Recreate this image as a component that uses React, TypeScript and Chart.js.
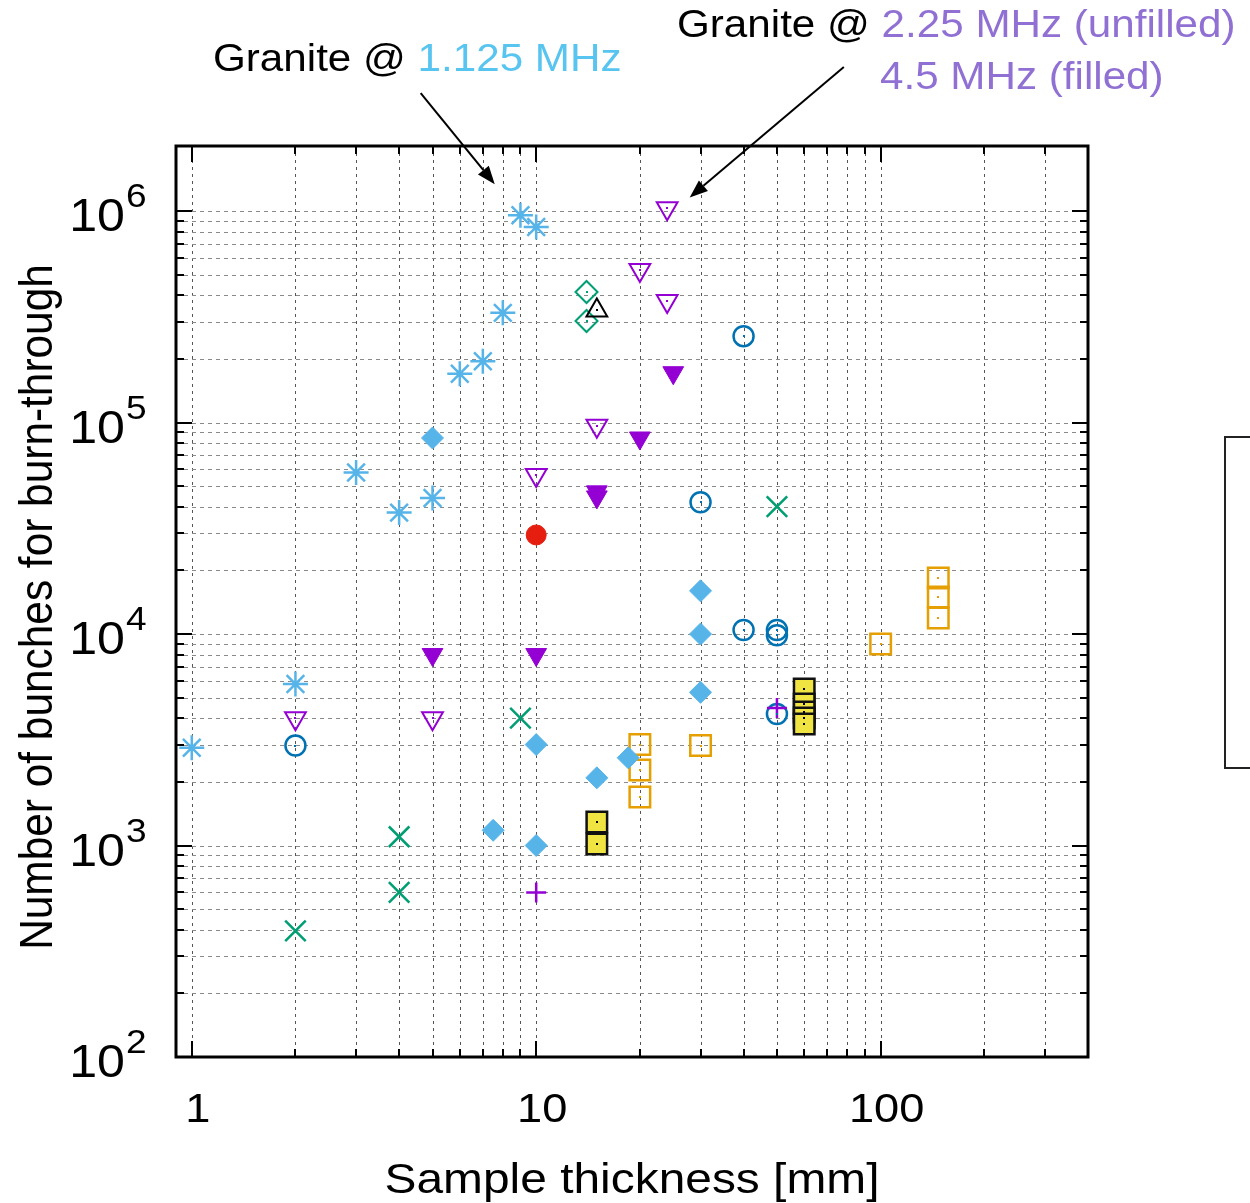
import React, { useEffect, useRef } from "react";
import { Chart, registerables } from "chart.js";
Chart.register(...registerables);

const FONT = '"Liberation Sans", Arial, Helvetica, sans-serif';

// ---------- data (thickness in mm, bunches for burn-through) ----------
const asteriskX = [1, 2, 3, 4, 5, 6, 7, 8, 9, 10];
const asteriskY = [2900, 5800, 58000, 37500, 44000, 170000, 195000, 330000, 955000, 840000];

const blueDiamondX = [5, 7.5, 10, 10, 15, 18.5, 30, 30, 30];
const blueDiamondY = [84500, 1180, 3000, 1000, 2090, 2600, 16000, 10000, 5300];

const openDownX = [24, 20, 24, 15, 10, 2, 5];
const openDownY = [1030000, 526000, 375000, 96600, 56500, 4000, 4000];

const filledDownX = [25, 20, 15, 15, 5, 10];
const filledDownY = [172000, 84500, 47000, 44500, 8000, 8000];

const redCircleX = [10];
const redCircleY = [29400];

const greenCrossX = [2, 4, 4, 9, 50];
const greenCrossY = [395, 1100, 600, 4000, 40000];

const greenDiamondX = [14, 14];
const greenDiamondY = [414000, 302000];

const blackTriX = [15];
const blackTriY = [339000];

const blueCircleX = [2, 40, 30, 40, 50, 50, 50];
const blueCircleY = [2970, 256000, 42000, 10450, 10450, 9860, 4185];

const plusX = [10, 50];
const plusY = [600, 4470];

const orangeSquareX = [20, 20, 20, 30, 100, 147, 147, 147];
const orangeSquareY = [3000, 2275, 1695, 2970, 8970, 18400, 14960, 11900];

const yellowSquareX = [15, 15, 60, 60, 60, 60, 60];
const yellowSquareY = [1290, 1016, 5500, 4670, 4280, 4010, 3750];

// ---------- axes ----------
const xMin = 0.9;
const xMax = 400;
const yMin = 100;
const yMax = 2.03e6;
const xGridValues = [1, 2, 3, 4, 5, 6, 7, 8, 9, 10, 20, 30, 40, 50, 60, 70, 80, 90, 100, 200, 300, 400];
const yGridValues = [
  100, 200, 300, 400, 500, 600, 700, 800, 900,
  1000, 2000, 3000, 4000, 5000, 6000, 7000, 8000, 9000,
  10000, 20000, 30000, 40000, 50000, 60000, 70000, 80000, 90000,
  100000, 200000, 300000, 400000, 500000, 600000, 700000, 800000, 900000,
  1000000, 2000000,
];
const xTickValues = [1, 10, 100];
const xTickLabels = ["1", "10", "100"];
const yTickValues = [100, 1000, 10000, 100000, 1000000];
const yTickExponents = ["2", "3", "4", "5", "6"];

const xTitle = "Sample thickness [mm]";
const yTitle = "Number of bunches for burn-through";

// annotation arrows in data coordinates: [fromX, fromY, toX, toY]
const arrow1 = [4.62, 3.61e6, 7.58, 1.34e6];
const arrow2 = [78.2, 4.8e6, 27.9, 1.16e6];

const zip = (xs: number[], ys: number[]) => xs.map((x, i) => ({ x, y: ys[i] }));

function drawText(
  ctx: CanvasRenderingContext2D,
  text: string,
  x: number,
  y: number,
  size: number,
  color: string,
  align: "left" | "center" | "right",
  sx: number
) {
  ctx.save();
  ctx.font = `${size}px ${FONT}`;
  ctx.fillStyle = color;
  ctx.textBaseline = "alphabetic";
  ctx.textAlign = "left";
  const w = ctx.measureText(text).width * sx;
  const left = align === "center" ? x - w / 2 : align === "right" ? x - w : x;
  ctx.translate(left, y);
  ctx.scale(sx, 1);
  ctx.fillText(text, 0, 0);
  ctx.restore();
  return w;
}

function drawArrow(ctx: CanvasRenderingContext2D, x1: number, y1: number, x2: number, y2: number) {
  const ang = Math.atan2(y2 - y1, x2 - x1);
  const len = 18;
  const half = 7;
  const bx = x2 - Math.cos(ang) * len;
  const by = y2 - Math.sin(ang) * len;
  ctx.save();
  ctx.strokeStyle = "#000";
  ctx.fillStyle = "#000";
  ctx.lineWidth = 2;
  ctx.beginPath();
  ctx.moveTo(x1, y1);
  ctx.lineTo(bx, by);
  ctx.stroke();
  ctx.beginPath();
  ctx.moveTo(x2, y2);
  ctx.lineTo(bx + Math.sin(ang) * half, by - Math.cos(ang) * half);
  ctx.lineTo(bx - Math.sin(ang) * half, by + Math.cos(ang) * half);
  ctx.closePath();
  ctx.fill();
  ctx.restore();
}

const framePlugin = {
  id: "framePlugin",
  beforeDatasetsDraw(chart: any) {
    const { ctx, chartArea: a } = chart;
    const xs = chart.scales.x;
    const ys = chart.scales.y;
    ctx.save();
    ctx.lineWidth = 1;
    // vertical grid
    ctx.strokeStyle = "#555";
    ctx.setLineDash([3, 4]);
    xGridValues.forEach((v) => {
      const px = Math.round(xs.getPixelForValue(v)) + 0.5;
      if (px <= a.left + 2 || px >= a.right - 2) return;
      ctx.beginPath();
      ctx.moveTo(px, a.top);
      ctx.lineTo(px, a.bottom);
      ctx.stroke();
    });
    // horizontal grid
    ctx.strokeStyle = "#8a8a8a";
    ctx.setLineDash([4, 4]);
    yGridValues.forEach((v) => {
      const py = Math.round(ys.getPixelForValue(v)) + 0.5;
      if (py <= a.top + 2 || py >= a.bottom - 2) return;
      ctx.beginPath();
      ctx.moveTo(a.left, py);
      ctx.lineTo(a.right, py);
      ctx.stroke();
    });
    ctx.restore();
  },
  afterDatasetsDraw(chart: any) {
    const { ctx, chartArea: a } = chart;
    const xs = chart.scales.x;
    const ys = chart.scales.y;
    // center dots
    chart.data.datasets.forEach((ds: any, i: number) => {
      if (!ds.dotColor) return;
      const meta = chart.getDatasetMeta(i);
      ctx.save();
      ctx.fillStyle = ds.dotColor;
      meta.data.forEach((el: any) => {
        ctx.fillRect(Math.round(el.x) - 1, Math.round(el.y) - 1, 2, 2);
      });
      ctx.restore();
    });
    ctx.save();
    ctx.strokeStyle = "#000";
    ctx.setLineDash([]);
    // tick marks
    ctx.lineWidth = 2;
    xGridValues.forEach((v) => {
      const px = Math.round(xs.getPixelForValue(v));
      if (px <= a.left + 2 || px >= a.right - 2) return;
      const major = Math.abs(Math.log10(v) - Math.round(Math.log10(v))) < 1e-9;
      const L = major ? 16 : 8;
      ctx.beginPath();
      ctx.moveTo(px, a.bottom);
      ctx.lineTo(px, a.bottom - L);
      ctx.moveTo(px, a.top);
      ctx.lineTo(px, a.top + L);
      ctx.stroke();
    });
    yGridValues.forEach((v) => {
      const py = Math.round(ys.getPixelForValue(v));
      if (py <= a.top + 2 || py >= a.bottom - 2) return;
      const major = Math.abs(Math.log10(v) - Math.round(Math.log10(v))) < 1e-9;
      const L = major ? 16 : 8;
      ctx.beginPath();
      ctx.moveTo(a.left, py);
      ctx.lineTo(a.left + L, py);
      ctx.moveTo(a.right, py);
      ctx.lineTo(a.right - L, py);
      ctx.stroke();
    });
    // border
    ctx.lineWidth = 3;
    ctx.strokeRect(a.left, a.top, a.right - a.left, a.bottom - a.top);
    ctx.restore();
  },
  afterDraw(chart: any) {
    const { ctx } = chart;
    const xs = chart.scales.x;
    const ys = chart.scales.y;
    // y tick labels 10^n
    yTickValues.forEach((v, i) => {
      const py = ys.getPixelForValue(v);
      drawText(ctx, "10", 125, py + 20, 46, "#000", "right", 1.09);
      drawText(ctx, yTickExponents[i], 126, py - 4, 34, "#000", "left", 1.09);
    });
    // x tick labels
    xTickValues.forEach((v, i) => {
      const px = xs.getPixelForValue(v);
      drawText(ctx, xTickLabels[i], px + 6, 1122, 40, "#000", "center", 1.13);
    });
    // axis titles
    drawText(ctx, xTitle, 632, 1193, 42, "#000", "center", 1.14);
    ctx.save();
    ctx.translate(52, 607);
    ctx.rotate(-Math.PI / 2);
    ctx.scale(1, 1.1);
    drawText(ctx, yTitle, 0, 0, 42.4, "#000", "center", 1);
    ctx.restore();
    // annotations
    const fs = 38;
    const sx = 1.11;
    const w1 = drawText(ctx, "Granite @ ", 213, 71, fs, "#000", "left", sx);
    drawText(ctx, "1.125 MHz", 213 + w1, 71, fs, "#58C4F0", "left", sx);
    const w2 = drawText(ctx, "Granite @ ", 677, 37, fs, "#000", "left", sx);
    drawText(ctx, "2.25 MHz (unfilled)", 677 + w2, 37, fs, "#9170D4", "left", sx);
    drawText(ctx, "4.5 MHz (filled)", 880, 89, fs, "#9170D4", "left", sx);
    [arrow1, arrow2].forEach((ar) => {
      drawArrow(
        ctx,
        xs.getPixelForValue(ar[0]),
        ys.getPixelForValue(ar[1]),
        xs.getPixelForValue(ar[2]),
        ys.getPixelForValue(ar[3])
      );
    });
    // legend box (cut off at right edge)
    ctx.save();
    ctx.strokeStyle = "#222";
    ctx.lineWidth = 2;
    ctx.strokeRect(1225, 437, 60, 331);
    ctx.restore();
  },
};

export default function App() {
  const ref = useRef<HTMLCanvasElement>(null);
  useEffect(() => {
    const open = "rgba(0,0,0,0)";
    const chart = new Chart(ref.current as HTMLCanvasElement, {
      type: "scatter",
      data: {
        datasets: [
          { data: zip(plusX, plusY), pointStyle: "cross", pointRadius: 10, borderColor: "#9400D3", pointBorderWidth: 2.5, clip: false } as any,
          { data: zip(blackTriX, blackTriY), pointStyle: "triangle", pointRadius: 12, borderColor: "#000", backgroundColor: open, pointBorderWidth: 2, dotColor: "#000", clip: false },
          { data: zip(greenDiamondX, greenDiamondY), pointStyle: "rectRot", pointRadius: 11, borderColor: "#009E73", backgroundColor: open, pointBorderWidth: 2, dotColor: "#009E73", clip: false },
          { data: zip(openDownX, openDownY), pointStyle: "triangle", pointRotation: 180, pointRadius: 12, borderColor: "#9400D3", backgroundColor: open, pointBorderWidth: 2, dotColor: "#9400D3", clip: false },
          { data: zip(filledDownX, filledDownY), pointStyle: "triangle", pointRotation: 180, pointRadius: 12, borderColor: "#9400D3", backgroundColor: "#9400D3", pointBorderWidth: 1, clip: false },
          { data: zip(asteriskX, asteriskY), pointStyle: "star", pointRadius: 12.5, borderColor: "#56B4E9", pointBorderWidth: 2.5, clip: false },
          { data: zip(blueDiamondX, blueDiamondY), pointStyle: "rectRot", pointRadius: 11, borderColor: "#56B4E9", backgroundColor: "#56B4E9", pointBorderWidth: 1, clip: false },
          { data: zip(redCircleX, redCircleY), pointStyle: "circle", pointRadius: 10, borderColor: "#E51E10", backgroundColor: "#E51E10", pointBorderWidth: 1, clip: false },
          { data: zip(greenCrossX, greenCrossY), pointStyle: "crossRot", pointRadius: 14.5, borderColor: "#009E73", pointBorderWidth: 2.5, clip: false },
          { data: zip(blueCircleX, blueCircleY), pointStyle: "circle", pointRadius: 10, borderColor: "#0072B2", backgroundColor: open, pointBorderWidth: 2.5, dotColor: "#0072B2", clip: false },
          { data: zip(orangeSquareX, orangeSquareY), pointStyle: "rect", pointRadius: 14.5, borderColor: "#E69F00", backgroundColor: open, pointBorderWidth: 2.5, dotColor: "#E69F00", clip: false },
          { data: zip(yellowSquareX, yellowSquareY), pointStyle: "rect", pointRadius: 14.5, borderColor: "#111", backgroundColor: "#F0E442", pointBorderWidth: 2.5, dotColor: "#000", clip: false },
        ] as any,
      },
      options: {
        animation: false,
        responsive: false,
        devicePixelRatio: 1,
        events: [],
        layout: { padding: { left: 176, top: 146, right: 162, bottom: 146 } },
        scales: {
          x: { type: "logarithmic", min: xMin, max: xMax, display: false },
          y: { type: "logarithmic", min: yMin, max: yMax, display: false },
        },
        plugins: { legend: { display: false }, tooltip: { enabled: false } },
      },
      plugins: [framePlugin],
    });
    return () => chart.destroy();
  }, []);
  return (
    <div style={{ position: "absolute", left: 0, top: 0, width: 1250, height: 1203, background: "#fff" }}>
      <canvas ref={ref} width={1250} height={1203} style={{ display: "block" }} />
    </div>
  );
}
